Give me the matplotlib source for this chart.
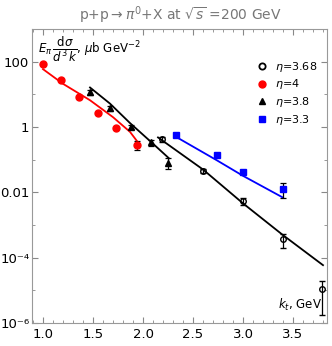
import matplotlib
matplotlib.use("Agg")
import matplotlib.pyplot as plt
from matplotlib.lines import Line2D
from matplotlib.ticker import FixedLocator, FuncFormatter

# data points
x_368 = [2.19, 2.6, 3.0, 3.4, 3.79]
y_368 = [0.42, 0.046, 0.0054, 3.6e-4, 1.07e-5]
e_368 = [0.08, 0.006, 0.0013, 1.6e-4, 9e-6]

x_4 = [1.0, 1.18, 1.36, 1.55, 1.73, 1.94]
y_4 = [82, 27, 8.1, 2.7, 0.9, 0.29]
e_4 = [3, 1.2, 0.4, 0.15, 0.06, 0.09]

x_38 = [1.47, 1.67, 1.88, 2.08, 2.25]
y_38 = [11.5, 3.7, 1.0, 0.34, 0.081]
e_38 = [1.8, 0.6, 0.15, 0.07, 0.029]

x_33 = [2.33, 2.74, 3.0, 3.4]
y_33 = [0.58, 0.14, 0.042, 0.013]
e_33 = [0.02, 0.008, 0.004, 0.0063]

# model curves
fx_4 = [1.0, 1.2, 1.47, 1.7, 1.87, 1.94]
fy_4 = [59, 21, 6.6, 2.0, 0.71, 0.37]
fx_38 = [1.47, 1.67, 1.87, 2.08, 2.26]
fy_38 = [16.2, 5.2, 1.32, 0.35, 0.11]
fx_368 = [2.15, 2.6, 3.0, 3.4, 3.8]
fy_368 = [0.48, 0.050, 0.0046, 4.9e-4, 5.9e-5]
fx_33 = [2.33, 2.74, 3.0, 3.4]
fy_33 = [0.50, 0.095, 0.032, 0.0069]

fig = plt.figure(figsize=(3.32, 3.46), dpi=100)
ax = fig.add_axes([32/332, 23/346, 295/332, 294/346])

ax.plot(fx_4, fy_4, color="#ff0000", lw=1.3)
ax.plot(fx_38, fy_38, color="black", lw=1.3)
ax.plot(fx_368, fy_368, color="black", lw=1.3)
ax.plot(fx_33, fy_33, color="#0000ff", lw=1.3)

kw = dict(capsize=2.5, elinewidth=0.9, capthick=0.9, ecolor="black", ls="none")
ax.errorbar(x_368, y_368, yerr=e_368, marker="o", ms=4, mfc="none", mec="black", mew=1.0, **kw)
ax.errorbar(x_4, y_4, yerr=e_4, marker="o", ms=5, mfc="#ff0000", mec="#ff0000", **kw)
ax.errorbar(x_38, y_38, yerr=e_38, marker="^", ms=4.5, mfc="black", mec="black", **kw)
ax.errorbar(x_33, y_33, yerr=e_33, marker="s", ms=4.5, mfc="#0000ff", mec="#0000ff", **kw)

handles = [
    Line2D([], [], ls="none", marker="o", ms=4.5, mfc="none", mec="black", mew=1.3),
    Line2D([], [], ls="none", marker="o", ms=5, mfc="#ff0000", mec="#ff0000"),
    Line2D([], [], ls="none", marker="^", ms=4.5, mfc="black", mec="black"),
    Line2D([], [], ls="none", marker="s", ms=4.5, mfc="#0000ff", mec="#0000ff"),
]
names = [r"$\eta$=3.68", r"$\eta$=4", r"$\eta$=3.8", r"$\eta$=3.3"]

ax.set_yscale("log")
ax.set_xlim(0.89, 3.84)
ax.set_ylim(1e-6, 1e3)

ax.yaxis.set_major_locator(FixedLocator([1e-6, 1e-4, 1e-2, 1, 100]))
ax.yaxis.set_minor_locator(FixedLocator([1e-5, 1e-3, 1e-1, 10]))
labs = {1e-6: "10\u207b\u2076", 1e-4: "10\u207b\u2074", 1e-2: "0.01", 1: "1", 100: "100"}
ax.yaxis.set_major_formatter(FuncFormatter(lambda v, p: min(labs.items(), key=lambda kv: abs(kv[0] - v) / kv[0])[1]))
ax.yaxis.set_minor_formatter(FuncFormatter(lambda v, p: ""))
ax.xaxis.set_major_locator(FixedLocator([1.0, 1.5, 2.0, 2.5, 3.0, 3.5]))
ax.xaxis.set_minor_locator(FixedLocator([0.9 + 0.1 * i for i in range(30) if i % 5 != 1]))
ax.xaxis.set_major_formatter(FuncFormatter(lambda v, p: f"{v:.1f}"))

ax.tick_params(which="both", direction="in", top=True, right=True, colors="#888888",
               labelcolor="black", labelsize=9.5)
ax.tick_params(which="major", length=4, width=0.8)
ax.tick_params(which="minor", length=2, width=0.6)
ax.tick_params(axis="y", pad=2)
for s in ax.spines.values():
    s.set_color("#999999")

ax.text(0.02, 0.93, r"$E_\pi\,\dfrac{\mathrm{d}\sigma}{d^3\,k}$, $\mu$b GeV$^{-2}$",
        transform=ax.transAxes, fontsize=8.5, va="center", ha="left")
ax.text(0.985, 0.035, r"$k_t$, GeV", transform=ax.transAxes, fontsize=8.5,
        ha="right", va="bottom")

ax.legend(handles, names, loc="upper right", frameon=False, fontsize=8, handletextpad=0.6,
          bbox_to_anchor=(1.0, 0.93), labelspacing=0.35, handlelength=1.0)

fig.text(180/332, 1 - 15/346, r"p+p$\rightarrow\pi^0$+X at $\sqrt{s}$ =200 GeV",
         color="#777777", fontsize=10, ha="center", va="center")

fig.savefig("out.png", dpi=100)
